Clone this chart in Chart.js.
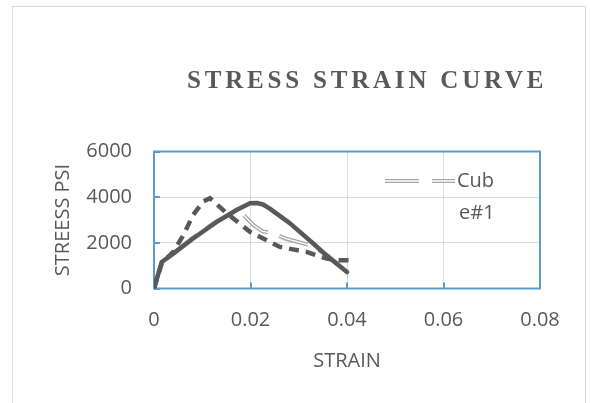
<!DOCTYPE html>
<html>
<head>
<meta charset="utf-8">
<script src="https://cdn.jsdelivr.net/npm/chart.js@4"></script>
<style>
  html, body { margin: 0; padding: 0; background: #ffffff; overflow: hidden; }
  #frame { position: absolute; left: 12px; top: 6px; width: 574px; height: 600px; border: 1px solid #d9d9d9; box-sizing: border-box; }
  #c { position: absolute; left: 0; top: 0; }
</style>
</head>
<body>
<div id="frame"></div>
<canvas id="c" width="590" height="403"></canvas>
<script>
// ---- data ----
const chartTitle = "STRESS STRAIN CURVE";
const xAxisTitle = "STRAIN";
const yAxisTitle = "STREESS PSI";
const legendLabel = ["Cub", "e#1"];   // "Cube#1" wrapped as in the original legend

const xTicks = [0, 0.02, 0.04, 0.06, 0.08];
const yTicks = [0, 2000, 4000, 6000];

// solid dark series
const solidStrain = [0, 0.0016, 0.004, 0.0081, 0.013, 0.0171, 0.0199, 0.0213, 0.0226, 0.0240, 0.0282, 0.033, 0.0365, 0.040];
const solidStress = [0, 1160, 1530, 2190, 2920, 3440, 3735, 3745, 3680, 3500, 2850, 1970, 1310, 720];

// dashed dark series
const dashedStrain = [0, 0.0016, 0.004, 0.0061, 0.0081, 0.0102, 0.0116, 0.0151, 0.0199, 0.022, 0.0261, 0.0316, 0.0358, 0.0386, 0.041];
const dashedStress = [0, 1100, 1600, 2340, 3220, 3810, 3955, 3290, 2480, 2260, 1820, 1600, 1310, 1235, 1235];

// light double-line series (Cube#1)
const cube1Strain = [0, 0.0016, 0.004, 0.0081, 0.013, 0.0165, 0.0185, 0.0192, 0.0206, 0.0225, 0.0247, 0.0272, 0.0323, 0.036, 0.040];
const cube1Stress = [0, 1150, 1550, 2230, 2950, 3320, 3250, 3075, 2780, 2500, 2420, 2190, 1900, 1450, 720];

const toPts = (xs, ys) => xs.map((x, i) => ({ x: x, y: ys[i] }));

// ---- style constants ----
const TXT = '#595959';
const AXIS_BLUE = '#5B9BD5';
const GRID = '#d9d9d9';
const DARK = '#595959';
const LIGHT = '#A6A6A6';
const FONT = 'Open Sans';

const decorPlugin = {
  id: 'decor',
  beforeDatasetsDraw(chart) {
    const { ctx, chartArea: a, scales } = chart;
    ctx.save();
    ctx.strokeStyle = AXIS_BLUE;
    ctx.lineWidth = 2;
    ctx.strokeRect(a.left, a.top, a.right - a.left, a.bottom - a.top);
    ctx.beginPath();
    xTicks.forEach(v => {
      const px = Math.round(scales.x.getPixelForValue(v));
      ctx.moveTo(px, a.bottom); ctx.lineTo(px, a.bottom - 6);
    });
    yTicks.forEach(v => {
      const py = Math.round(scales.y.getPixelForValue(v));
      ctx.moveTo(a.left, py); ctx.lineTo(a.left + 6, py);
    });
    ctx.stroke();
    ctx.restore();
  },
  afterDraw(chart) {
    const { ctx, chartArea: a } = chart;
    ctx.save();
    // title
    ctx.fillStyle = TXT;
    ctx.font = 'bold 25px "Liberation Serif"';
    ctx.textAlign = 'left';
    ctx.textBaseline = 'alphabetic';
    try { ctx.letterSpacing = '3.8px'; } catch (e) {}
    ctx.fillText(chartTitle, 187, 88);
    try { ctx.letterSpacing = '0px'; } catch (e) {}

    // axis titles
    ctx.font = '20px "' + FONT + '"';
    ctx.textAlign = 'center';
    ctx.textBaseline = 'middle';
    ctx.fillText(xAxisTitle, (a.left + a.right) / 2, 361);
    ctx.save();
    ctx.translate(63, 220);
    ctx.rotate(-Math.PI / 2);
    ctx.fillText(yAxisTitle, 0, 0);
    ctx.restore();

    // legend
    const ly = 181;
    ctx.setLineDash([34, 13]);
    ctx.lineCap = 'butt';
    ctx.strokeStyle = LIGHT;
    ctx.lineWidth = 4;
    ctx.beginPath(); ctx.moveTo(385, ly); ctx.lineTo(455, ly); ctx.stroke();
    ctx.strokeStyle = '#ffffff';
    ctx.lineWidth = 1.3;
    ctx.beginPath(); ctx.moveTo(385, ly); ctx.lineTo(455, ly); ctx.stroke();
    ctx.setLineDash([]);
    ctx.fillStyle = TXT;
    ctx.textAlign = 'left';
    ctx.fillText(legendLabel[0], 457, ly);
    ctx.fillText(legendLabel[1], 459, ly + 32);
    ctx.restore();
  }
};

Chart.defaults.font.family = FONT;
Chart.defaults.color = TXT;

new Chart(document.getElementById('c'), {
  type: 'scatter',
  data: {
    datasets: [
      { label: 'solid', data: toPts(solidStrain, solidStress), showLine: true,
        borderColor: DARK, borderWidth: 4.5, pointRadius: 0, tension: 0, borderJoinStyle: 'round', borderCapStyle: 'round' },
      { label: 'dashed', data: toPts(dashedStrain, dashedStress), showLine: true,
        borderColor: DARK, borderWidth: 4.5, borderDash: [10, 7], pointRadius: 0, tension: 0 },
      { label: 'Cube#1 inner', data: toPts(cube1Strain, cube1Stress), showLine: true,
        borderColor: '#ffffff', borderWidth: 1.3, borderDash: [30, 12], pointRadius: 0, tension: 0 },
      { label: 'Cube#1', data: toPts(cube1Strain, cube1Stress), showLine: true,
        borderColor: LIGHT, borderWidth: 4, borderDash: [30, 12], pointRadius: 0, tension: 0 }
    ]
  },
  options: {
    responsive: false,
    animation: false,
    devicePixelRatio: 1,
    layout: { padding: { left: 0, top: 151.5, right: 50, bottom: 0 } },
    plugins: { legend: { display: false }, title: { display: false }, tooltip: { enabled: false } },
    scales: {
      x: {
        type: 'linear', min: 0, max: 0.08,
        afterBuildTicks: s => { s.ticks = xTicks.map(v => ({ value: v })); },
        afterFit: s => { s.height = 403 - 288.5; },
        grid: { color: GRID, lineWidth: 1, drawTicks: false },
        border: { display: false },
        ticks: { padding: 20, font: { size: 20 }, color: TXT, maxRotation: 0,
          callback: v => String(v) }
      },
      y: {
        type: 'linear', min: 0, max: 6000,
        afterBuildTicks: s => { s.ticks = yTicks.map(v => ({ value: v })); },
        afterFit: s => { s.width = 154; },
        grid: { color: GRID, lineWidth: 1, drawTicks: false },
        border: { display: false },
        ticks: { padding: 22, font: { size: 20 }, color: TXT, callback: v => String(v) }
      }
    }
  },
  plugins: [decorPlugin]
});
</script>
</body>
</html>
